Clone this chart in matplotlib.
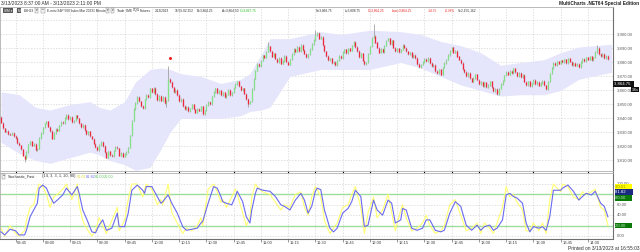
import numpy as np
import matplotlib
matplotlib.use("Agg")
import matplotlib.pyplot as plt

W, H = 640, 252

# ES 1-minute bars 08:37 .. 14:11, closes
first_open = 3841
closes = [
    # 08:37
    3837, 3833, 3830.5, 3831.25, 3829, 3828.5, 3829.75, 3827.5,
    # 08:45
    3826, 3822.5, 3820.75, 3818, 3813.5, 3811.25, 3816, 3821.5, 3823.75, 3820.5, 3822, 3817.25, 3818.5, 3826, 3829.5,
    # 09:00
    3833.75, 3836.5, 3838, 3834.25, 3831, 3825.5, 3829.75, 3832.5, 3831.25, 3835, 3837.75, 3836.5, 3840.25, 3842.5, 3839.75,
    # 09:15
    3841, 3837.25, 3838.5, 3842.25, 3840, 3836.5, 3834, 3835.25, 3831.5, 3829, 3830.75, 3827.25, 3825.5, 3822, 3819.75,
    # 09:30
    3817.5, 3821, 3823.5, 3820.25, 3815.75, 3812, 3816.5, 3814, 3813.25, 3817, 3819.5, 3818.75, 3813.5, 3815.25, 3812.75,
    # 09:45
    3814.5, 3816, 3819.25, 3828, 3838.5, 3846.75, 3851, 3855.5, 3852.25, 3849, 3847.5, 3853.75, 3857, 3855.25, 3861.5,
    # 10:00
    3858.75, 3862, 3857.5, 3853.25, 3856, 3852.75, 3855.5, 3851, 3853, 3868.5, 3866, 3862.25, 3859, 3860.5, 3856.75,
    # 10:15
    3852.5, 3854.25, 3849, 3846.75, 3848.5, 3845, 3847.25, 3850, 3846.5, 3844.25, 3847, 3845.5, 3848.75, 3843.25, 3845.75,
    # 10:30
    3849.5, 3852, 3850.25, 3855.75, 3859, 3861.5, 3858.25, 3860, 3856.5, 3858.75, 3855.25, 3857, 3860.25, 3856.5, 3858.75,
    # 10:45
    3862, 3864.75, 3866.5, 3863, 3860.25, 3861.5, 3857.75, 3854, 3850.5, 3852.25, 3861, 3868.5, 3874.25, 3879, 3877.5,
    # 11:00
    3881.25, 3885, 3883.5, 3887.75, 3891.5, 3888, 3884.25, 3886.5, 3882.75, 3880, 3883.5, 3879.25, 3881, 3884.75, 3880.5,
    # 11:15
    3878.5, 3882.25, 3886, 3889.5, 3887.75, 3891, 3888.25, 3892.5, 3889, 3886.25, 3884, 3885.75, 3889.5, 3893.25, 3896,
    # 11:30
    3899.5, 3901.25, 3897, 3898.5, 3892.25, 3888, 3884.5, 3881.75, 3883, 3879.5, 3880.25, 3878, 3881.5, 3884.75, 3883,
    # 11:45
    3887.5, 3889.25, 3886.75, 3890, 3888.5, 3892.25, 3894.5, 3891, 3888.25, 3884, 3886.5, 3881.25, 3878.75, 3880, 3886.25,
    # 12:00
    3891.5, 3897.75, 3899, 3894.25, 3890.5, 3887, 3889.75, 3887.25, 3892, 3895.5, 3897.25, 3893, 3895.75, 3890.5, 3888.25,
    # 12:15
    3890, 3887.5, 3889.25, 3892.75, 3890.5, 3888, 3885.75, 3887.25, 3884, 3885.5, 3883.25, 3879, 3876.75, 3878.5, 3880.25,
    # 12:30
    3882.5, 3881, 3883.25, 3879.75, 3877.5, 3878.25, 3874, 3872.5, 3875, 3871.25, 3876.5, 3879.75, 3882, 3885.25, 3888.5,
    # 12:45
    3890.75, 3887, 3888.5, 3884.25, 3882, 3879.5, 3875, 3873.25, 3870, 3872.5, 3868.75, 3866.25, 3869, 3871.5, 3867.75,
    # 13:00
    3864.5, 3866.25, 3863, 3865.75, 3862.5, 3864, 3866.5, 3862.25, 3859.75, 3861, 3857.5, 3861.25, 3864.5, 3867, 3870.75,
    # 13:15
    3873.5, 3871.25, 3874, 3872.5, 3875.75, 3873, 3870.25, 3872.75, 3869.5, 3871, 3866.25, 3864, 3866.5, 3863.25, 3865,
    # 13:30
    3867.5, 3864.75, 3866, 3863.5, 3865.25, 3867, 3863.75, 3861, 3866.5, 3872.25, 3876, 3879.5, 3878, 3880.75, 3879.25,
    # 13:45
    3881.5, 3880, 3882.25, 3879.75, 3883, 3880.5, 3878.25, 3879.5, 3877.75, 3879, 3876.5, 3880.25, 3882.5, 3881, 3883.75,
    # 14:00
    3882, 3884.25, 3881.5, 3883.75, 3887.5, 3890.25, 3886, 3884.5, 3886.25, 3883, 3884.75, 3882.5,
]
hi_spikes = {92: 3877.25, 147: 3894.5, 173: 3903, 205: 3907.5, 328: 3892.5}
lo_spikes = {13: 3808.75, 91: 3848, 136: 3848.5}
signal_bar = [93]
signal_price = [3883.5]

# lavender envelope around price
band_bar = [0, 10, 19, 27, 38, 49, 54, 60, 68, 74, 82, 88, 93, 99, 110, 121, 132, 137, 143, 148,
            159, 176, 187, 203, 220, 231, 242, 253, 264, 275, 286, 299, 308, 318, 336]
band_up = [3859, 3857, 3848, 3846, 3850, 3852, 3848, 3846, 3852, 3866, 3875, 3876, 3875, 3872, 3870, 3865, 3868, 3872, 3885, 3897,
           3897, 3902, 3900, 3903, 3902, 3900, 3895, 3892, 3887, 3878, 3880, 3882, 3887, 3891, 3893]
band_lo = [3823, 3815, 3810, 3808, 3812, 3816, 3814, 3810, 3807, 3803, 3805, 3818, 3830, 3840, 3840, 3840, 3842, 3845, 3846, 3848,
           3870, 3875, 3875, 3875, 3880, 3876, 3870, 3864, 3860, 3856, 3857, 3857, 3860, 3868, 3873]

# Stochastic_Fast (14, 3, 3)
stoch_bar = [0, 2, 5, 8, 10, 13, 14, 16, 18, 20,
             21, 23, 25, 27, 29, 31, 34, 36, 39, 42,
             43, 45, 47, 50, 52, 54, 56, 58, 61, 64,
             65, 68, 70, 72, 75, 78, 79, 80, 83, 86,
             88, 89, 92, 94, 97, 100, 102, 105, 108, 110,
             111, 114, 117, 119, 121, 122, 124, 127, 129, 130,
             133, 135, 137, 138, 140, 141, 144, 148, 151, 154,
             156, 159, 162, 165, 167, 169, 171, 173, 174, 176,
             178, 181, 183, 185, 188, 191, 193, 195, 198, 200,
             202, 205, 207, 210, 213, 215, 217, 220, 221, 223,
             226, 229, 232, 234, 236, 239, 242, 244, 247, 250,
             253, 256, 259, 262, 264, 266, 269, 271, 273, 276,
             278, 280, 282, 284, 287, 289, 291, 293, 296, 298,
             300, 302, 304, 308, 309, 312, 315, 318, 320, 322,
             325, 327, 330, 332, 334]
stoch_d = [8, 2, 13, 10, 2, 2, 11, 37, 50, 63,
           92, 98, 92, 76, 63, 69, 79, 92, 79, 95,
           82, 50, 34, 8, 6, 21, 31, 11, 15, 44,
           18, 18, 44, 88, 98, 88, 82, 95, 95, 76,
           63, 66, 79, 63, 44, 18, 11, 13, 15, 25,
           28, 63, 95, 92, 76, 66, 63, 60, 76, 86,
           66, 37, 25, 50, 82, 92, 88, 86, 76, 60,
           57, 50, 69, 82, 69, 44, 57, 86, 92, 89,
           50, 15, 8, 15, 44, 53, 66, 88, 76, 18,
           21, 69, 50, 40, 69, 63, 25, 31, 53, 50,
           15, 11, 15, 31, 31, 11, 8, 11, 44, 66,
           57, 21, 11, 21, 11, 18, 21, 11, 15, 31,
           79, 82, 76, 73, 63, 25, 8, 18, 15, 18,
           11, 37, 88, 88, 92, 98, 86, 69, 76, 82,
           79, 86, 63, 57, 37]
stoch_k = [15, 0, 20, 5, 0, 10, 30, 55, 60, 90,
           100, 95, 80, 55, 75, 80, 90, 100, 70, 100,
           60, 30, 15, 0, 10, 35, 20, 5, 30, 55,
           10, 30, 70, 100, 100, 75, 90, 100, 90, 60,
           70, 60, 100, 45, 25, 5, 15, 10, 20, 35,
           20, 90, 100, 85, 65, 70, 55, 75, 90, 80,
           45, 20, 35, 75, 100, 95, 85, 80, 65, 50,
           60, 55, 80, 85, 55, 40, 75, 95, 90, 75,
           30, 5, 15, 25, 55, 60, 80, 95, 55, 5,
           45, 75, 35, 50, 80, 45, 10, 50, 60, 35,
           10, 15, 25, 40, 20, 5, 10, 20, 60, 70,
           40, 10, 15, 25, 5, 25, 15, 5, 25, 55,
           95, 75, 80, 65, 50, 10, 10, 25, 10, 25,
           5, 70, 100, 85, 100, 95, 75, 70, 85, 80,
           85, 90, 55, 50, 20]

time_labels = ["08:45", "09:00", "09:15", "09:30", "09:45", "10:00", "10:15", "10:30", "10:45", "11:00", "11:15",
               "11:30", "11:45", "12:00", "12:15", "12:30", "12:45", "13:00", "13:15", "13:30", "13:45", "14:00"]
price_ticks = [3810, 3820, 3830, 3840, 3850, 3860, 3870, 3880, 3890, 3900]
stoch_ticks = [0, 20, 40, 60, 80, 100]


def fx(px):
    return px / W


def fy(py):
    return 1 - py / H


plt.rcParams["font.family"] = ["Liberation Sans", "DejaVu Sans"]
fig = plt.figure(figsize=(W / 100, H / 100), dpi=100)
fig.patch.set_facecolor("white")

ax = fig.add_axes([0, fy(171), fx(613), (171 - 7) / H])
ax_st = fig.add_axes([0, fy(238.5), fx(613), (238.5 - 172.5) / H], sharex=ax)

n = len(closes)
bars = np.arange(n)
c = np.array(closes, dtype=float)
o = np.concatenate([[first_open], c[:-1]])
hi = np.maximum(o, c) + 0.5
lo = np.minimum(o, c) - 0.5
for b, v in hi_spikes.items():
    hi[b] = v
for b, v in lo_spikes.items():
    lo[b] = v

grid_bars = [8 + 15 * k for k in range(len(time_labels))]
grid_kw = dict(color="#d4d4d4", lw=0.5, ls=(0, (2, 2)), zorder=0)

# price panel
ax.fill_between(band_bar, band_lo, band_up, color="#e5e5fb", lw=0, zorder=1)
for g in grid_bars:
    ax.axvline(g, **grid_kw)
for p in price_ticks + [3910]:
    ax.axhline(p, **grid_kw)

up = c >= o
ax.vlines(bars, lo, hi, color="#9a9a9a", lw=0.55, zorder=2)
body_lo = np.minimum(o, c)
body_hi = np.maximum(o, c) + 0.01
ax.vlines(bars[up], body_lo[up], body_hi[up], color="#86e286", lw=0.95, zorder=3)
ax.vlines(bars[~up], body_lo[~up], body_hi[~up], color="#ec2a3c", lw=0.95, zorder=3)
ax.plot(signal_bar, signal_price, "o", color="#f02020", ms=2.2, mew=0, zorder=4)

ax.set_xlim(-0.55, 336.8)
ax.set_ylim(3802.5, 3919.6)
ax.set_xticks([])
ax.set_yticks([])
for s in ["left", "top", "bottom"]:
    ax.spines[s].set_color("#b0b0b0")
    ax.spines[s].set_linewidth(0.6)
ax.spines["right"].set_color("#707070")
ax.spines["right"].set_linewidth(0.8)

lab_fs = 3.1
ytr = ax.get_yaxis_transform()
for p in price_ticks:
    ax.text(1.006, p, f"{p:,.2f}", transform=ytr, fontsize=lab_fs, color="#606060",
            va="center", ha="left", clip_on=False)
ax.text(1.002, 3864.75, "3,864.75  ", transform=ytr, fontsize=lab_fs, color="white", va="center", ha="left",
        clip_on=False, bbox=dict(boxstyle="square,pad=0.25", fc="#111111", ec="none"))
ax.text(1.03, 3860.6, " 36s", transform=ytr, fontsize=2.6, color="white", va="center", ha="left",
        clip_on=False, bbox=dict(boxstyle="square,pad=0.2", fc="#111111", ec="none"))

# stochastic panel
for g in grid_bars:
    ax_st.axvline(g, **grid_kw)
for s in [0, 40, 60, 100]:
    ax_st.axhline(s, **grid_kw)
ax_st.axhline(80, color="#9fdc9f", lw=1.0, zorder=1)
ax_st.axhline(20, color="#9fdc9f", lw=1.0, zorder=1)
ax_st.plot(stoch_bar, stoch_k, color="#ffff70", lw=0.8, zorder=2)
ax_st.plot(stoch_bar, stoch_d, color="#6a6af0", lw=0.8, zorder=3)
ax_st.set_ylim(-4.8, 122.1)
ax_st.set_yticks([])
ax_st.set_xticks(grid_bars)
ax_st.tick_params(axis="x", length=2, width=0.5, color="#707070", labelbottom=False)
for s in ["left", "top"]:
    ax_st.spines[s].set_color("#b0b0b0")
    ax_st.spines[s].set_linewidth(0.6)
for s in ["right", "bottom"]:
    ax_st.spines[s].set_color("#707070")
    ax_st.spines[s].set_linewidth(0.8)

str_ = ax_st.get_yaxis_transform()
for s in stoch_ticks:
    if s in (20, 80):
        continue
    ax_st.text(1.006, s, f"{s:.2f}", transform=str_, fontsize=lab_fs, color="#606060",
               va="center", ha="left", clip_on=False)
ax_st.text(1.004, 94.5, "90.01     ", transform=str_, fontsize=lab_fs, color="#909000", va="center", ha="left",
           clip_on=False, bbox=dict(boxstyle="square,pad=0.2", fc="#ffff00", ec="none"))
ax_st.text(1.004, 84.0, "81.82     ", transform=str_, fontsize=lab_fs, color="white", va="center", ha="left",
           clip_on=False, bbox=dict(boxstyle="square,pad=0.2", fc="#1a2a80", ec="none"))
ax_st.text(1.004, 73.5, "80.00     ", transform=str_, fontsize=lab_fs, color="#c0e0c0", va="center", ha="left",
           clip_on=False, bbox=dict(boxstyle="square,pad=0.2", fc="#0a7a0a", ec="none"))
ax_st.text(1.004, 20.0, "20.00     ", transform=str_, fontsize=lab_fs, color="#c0e0c0", va="center", ha="left",
           clip_on=False, bbox=dict(boxstyle="square,pad=0.2", fc="#0a7a0a", ec="none"))

xtr = ax_st.get_xaxis_transform()
for g, lab in zip(grid_bars, time_labels):
    ax_st.text(g + 1.0, -0.075, lab, transform=xtr, fontsize=3.0, color="#404040",
               va="center", ha="left", clip_on=False)

# header / status texts
tb_fs = 2.3
fig.text(fx(1), fy(3.5), "3/13/2023 8:37:00 AM - 3/13/2023 2:11:00 PM", fontsize=3.5, color="#303030", va="center")
fig.text(fx(639), fy(3.5), "MultiCharts .NET64 Special Edition", fontsize=3.4, fontweight="bold",
         color="#202020", va="center", ha="right")

box_dark = dict(boxstyle="square,pad=0.3", fc="#5a5a5a", ec="none")
box_light = dict(boxstyle="square,pad=0.25", fc="#f4f4f4", ec="#808080", lw=0.3)
fig.text(fx(4), fy(10.5), "SIM \u25be", fontsize=tb_fs, color="white", va="center", bbox=box_dark)
fig.text(fx(17.5), fy(10.5), "M", fontsize=tb_fs, color="white", va="center", bbox=box_dark)
fig.text(fx(24), fy(10.5), "ESH23", fontsize=tb_fs, color="#303030", va="center")
fig.text(fx(36), fy(10.5), "\u25be", fontsize=tb_fs, color="#303030", va="center", bbox=box_light)
fig.text(fx(42), fy(10.5), "\u2212", fontsize=tb_fs, color="#303030", va="center", bbox=box_light)
toolbar = [
    (47, "E-mini S&P 500 Index Mar 2023", "#303030"),
    (93, "1 Minute", "#303030"),
    (117, "Trade", "#303030"),
    (126, "CME", "#303030"),
    (133, "CQG", "#303030"),
    (140, "Futures", "#303030"),
    (155, "3/13/2023", "#303030"),
    (175, "16:55:02.252", "#303030"),
    (197, "B=3,864.25", "#303030"),
    (222, "A=3,864.50", "#303030"),
    (240, "O=3,867.75", "#22bb22"),
    (316, "H=3,868.75", "#303030"),
    (345, "L=3,808.75", "#303030"),
    (368, "C=3,864.25", "#ee2222"),
    (392, "Last=3,864.25", "#ee2222"),
    (428, "-14.75", "#ee2222"),
    (445, "-0.38%", "#ee2222"),
    (458, "V=2,155,162", "#303030"),
]
for px, txt, col in toolbar:
    fig.text(fx(px), fy(10.5), txt, fontsize=tb_fs, color=col, va="center")
fig.text(fx(106.5), fy(10.5), "\u25be", fontsize=tb_fs, color="#303030", va="center", bbox=box_light)
fig.text(fx(112), fy(10.5), "\u25be", fontsize=tb_fs, color="#303030", va="center", bbox=box_light)

lg_fs = 2.8
fig.text(fx(2.5), fy(176.5), "\u2212", fontsize=2.4, color="#303030", va="center", bbox=box_light)
fig.text(fx(8), fy(176.5), "Stochastic_Fast", fontsize=lg_fs, color="#303030", va="center")
fig.text(fx(42), fy(176.5), "(14, 3, 3, 1, 20, 80)", fontsize=lg_fs, color="#303030", va="center")
fig.text(fx(76.5), fy(176.5), "90.01", fontsize=lg_fs, color="#d8d830", va="center")
fig.text(fx(86), fy(176.5), "81.82", fontsize=lg_fs, color="#6a6af0", va="center")
fig.text(fx(95), fy(176.5), "80.00", fontsize=lg_fs, color="#5cc85c", va="center")
fig.text(fx(104), fy(176.5), "20.00", fontsize=lg_fs, color="#5cc85c", va="center")

fig.text(fx(639), fy(248.5), "Printed on 3/13/2023 at 16:55:03", fontsize=3.5, color="#303030",
         va="center", ha="right")

fig.savefig("out.png", dpi=100, facecolor="white")
